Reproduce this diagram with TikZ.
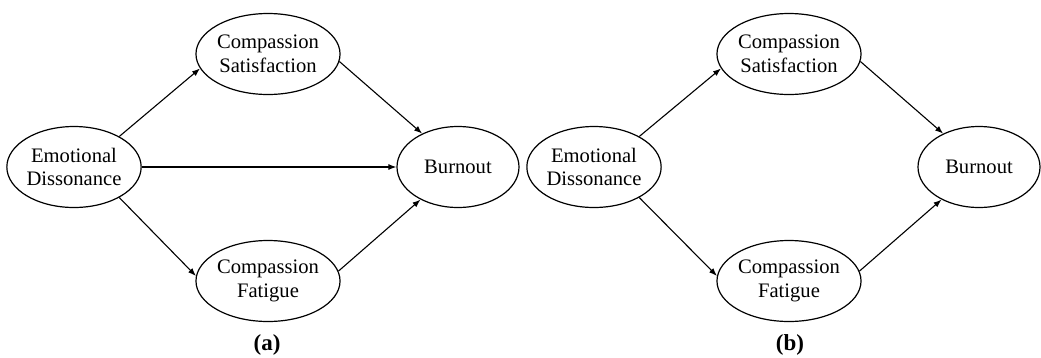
\documentclass[tikz,border=0pt]{standalone}
\usepackage{fontspec}
\setmainfont{Liberation Serif}
\usetikzlibrary{shapes.geometric,arrows.meta}
\begin{document}
\begin{tikzpicture}[x=1pt,y=-1pt,
  var/.style={ellipse,draw,line width=1.2pt,minimum width=122pt,minimum height=81pt,inner sep=0pt,align=center,font=\fontsize{20.6}{23.5}\selectfont},
  path/.style={line width=1.1pt,-{Latex[length=8pt,width=6pt]}},
  panel/.style={font=\fontsize{23}{26}\selectfont\bfseries}]
\useasboundingbox (0,0) rectangle (1041,357);
% panel (a)
\node[var] (eda) at (74,167) {Emotional\\Dissonance};
\node[var] (csa) at (268,54) {Compassion\\Satisfaction};
\node[var] (cfa) at (268,281) {Compassion\\Fatigue};
\node[var] (bua) at (458,167) {Burnout};
\node[panel] (la) at (267,345) {(a)};
\draw[path] (eda.34) -- (csa.192);
\draw[path] (csa.-6) -- (bua.137);
\draw[path] (eda.east) -- (bua.west);
\draw[path] (eda.-34) -- (cfa.176);
\draw[path] (cfa.8) -- (bua.221);
% panel (b)
\node[var] (edb) at (594,167) {Emotional\\Dissonance};
\node[var] (csb) at (789,54) {Compassion\\Satisfaction};
\node[var] (cfb) at (789,281) {Compassion\\Fatigue};
\node[var] (bub) at (979,167) {Burnout};
\node[panel] (lb) at (790,345) {(b)};
\draw[path] (edb.34) -- (csb.192);
\draw[path] (csb.-6) -- (bub.137);
\draw[path] (edb.-34) -- (cfb.176);
\draw[path] (cfb.8) -- (bub.221);
\end{tikzpicture}
\end{document}
